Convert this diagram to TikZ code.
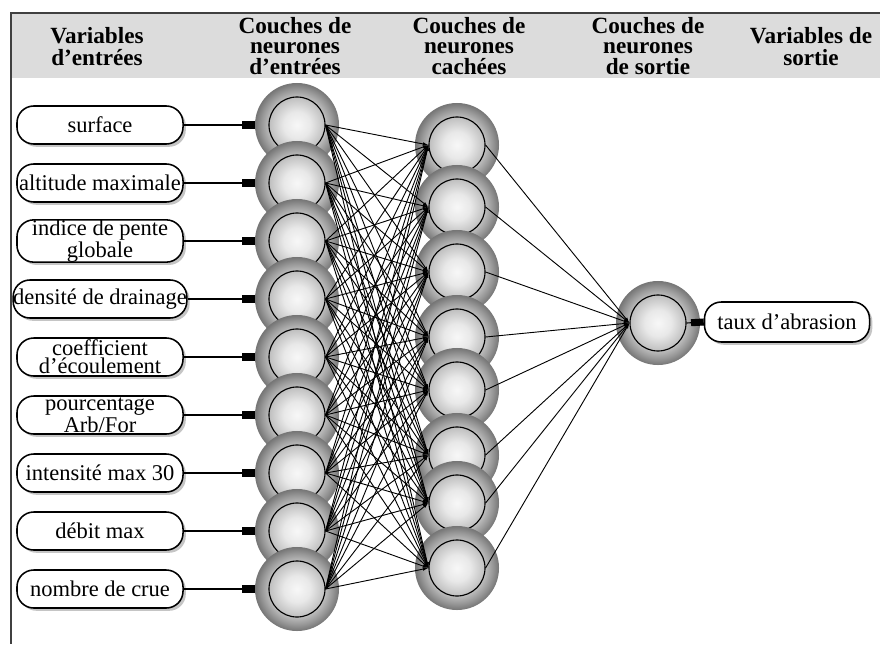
\documentclass[tikz,border=0pt]{standalone}
\usepackage{fontspec}
\setmainfont{Liberation Serif}
\usetikzlibrary{arrows.meta,shadows}
\definecolor{band}{HTML}{DCDCDC}
\definecolor{frame}{HTML}{404040}
\pgfdeclareradialshading{neuronball}{\pgfpoint{0bp}{0bp}}{%
  color(0bp)=(black!3); color(8bp)=(black!9); color(16bp)=(black!24);
  color(21bp)=(black!40); color(25bp)=(black!54); color(50bp)=(black!54)}
\tikzset{
  head/.style={font=\bfseries\fontsize{16.5}{14.5}\selectfont, align=center, inner sep=0pt},
  headtwo/.style={head, font=\bfseries\fontsize{16.5}{15.6}\selectfont},
  var/.style={draw=black, line width=1.1pt, fill=white, rounded corners=0.42cm,
    minimum width=4.15cm, minimum height=0.95cm, inner sep=0pt, align=center,
    font=\fontsize{16}{12.8}\selectfont,
    drop shadow={shadow xshift=2pt, shadow yshift=-2pt, fill=black!45}},
  ball/.style={circle, minimum size=2.1cm, inner sep=0pt, shading=neuronball},
  core/.style={circle, draw=black, line width=0.8pt, minimum size=1.4cm, inner sep=0pt},
  feed/.style={line width=0.8pt, -{Rectangle[length=9pt,width=5pt]}},
  link/.style={line width=0.65pt, -{Latex[length=4pt,width=2.5pt]}}
}

\begin{document}
\begin{tikzpicture}[x=0.025cm, y=-0.025cm]
  \useasboundingbox (0,0) rectangle (880,644);

  % header band
  \fill[band] (11,13) rectangle (880,78);
  \draw[frame, line width=1.5pt] (880,13) -- (11,13) -- (11,644);
  \node[headtwo] (hvar) at (97,47) {Variables\\d'entrées};
  \node[head] (hin) at (295,46) {Couches de\\neurones\\d'entrées};
  \node[head] (hhid) at (469,46) {Couches de\\neurones\\cachées};
  \node[head] (hout) at (648,46) {Couches de\\neurones\\de sortie};
  \node[headtwo] (hres) at (811,47) {Variables de\\sortie};

  % input variables and input layer
  \foreach \lab [count=\i] in {surface, altitude maximale, {indice de pente\\globale},
      densité de drainage, {coefficient\\d'écoulement}, {pourcentage\\Arb/For},
      intensité max 30, débit max, nombre de crue} {
    \node[var] (v\i) at (100,{67+58*\i}) {\lab};
    \node[ball] (e\i) at (297,{67+58*\i}) {};
    \node[core] (ec\i) at (e\i) {};
    \draw[feed] (v\i) -- (e\i);
  }

  % hidden layer
  \foreach \y [count=\j] in {145,207,272,337,390,455,503,568} {
    \node[ball] (h\j) at (457,\y) {};
    \node[core] (hc\j) at (h\j) {};
  }

  % output layer
  \node[ball] (s) at (658,323) {};
  \node[core] (sc) at (s) {};
  \node[var, minimum width=4.125cm, minimum height=1cm] (t) at (787,322) {taux d'abrasion};
  \draw[feed] (sc.east) -- (t.west);

  % connections
  \foreach \i in {1,...,9}
    \foreach \j in {1,...,8}
      \draw[link] (ec\i.east) -- (hc\j.west);
  \foreach \j in {1,...,8}
    \draw[link] (hc\j.east) -- (sc.west);
\end{tikzpicture}
\end{document}
